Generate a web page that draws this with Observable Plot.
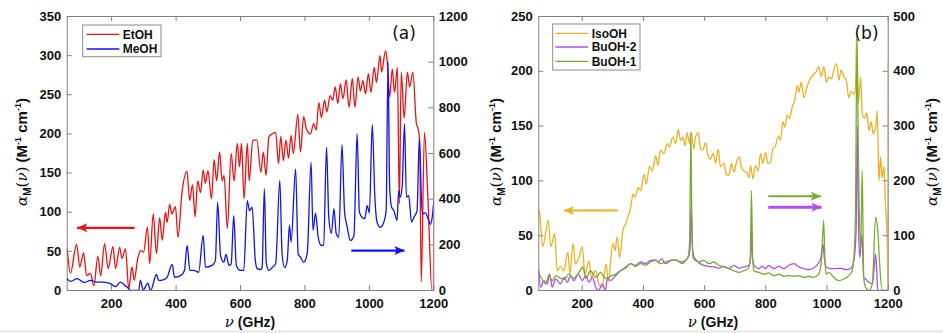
<!DOCTYPE html>
<html><head><meta charset="utf-8">
<script src="https://cdn.jsdelivr.net/npm/d3@7"></script>
<script src="https://cdn.jsdelivr.net/npm/@observablehq/plot@0.6"></script>
<style>
body{margin:0;background:#fff;}
#wrap{position:relative;width:943px;height:333px;overflow:hidden;}
#wrap svg{position:absolute;left:0;top:0;}
#strip{position:absolute;left:0;top:330px;width:943px;height:3px;background:#ececec;}
</style></head><body><div id="wrap"><div id="strip"></div></div>
<script>
// ---------- data ----------
const xTicks = [200, 400, 600, 800, 1000, 1200];
const yTicksA = [0, 50, 100, 150, 200, 250, 300, 350];
const yTicksAR = [0, 200, 400, 600, 800, 1000, 1200];
const yTicksB = [0, 50, 100, 150, 200, 250];
const yTicksBR = [0, 100, 200, 300, 400, 500];

const etohNu = [62,64,72,91,101,113,122,134,145,157,166,178,189,204,212,225,232,243,253,263,270,281,291,299,311,318,329,339,349,357,367,372,380,387,398,406,418,434,442,451,459,467,476,484,491,499,510,518,526,535,543,549,559,571,580,590,597,603,611,621,627,638,651,663,671,679,688,698,709,718,725,733,741,749,757,764,778,786,796,804,817,827,835,843,851,861,868,878,886,894,902,910,918,928,937,947,955,965,972,980,988,997,1005,1015,1022,1033,1038,1050,1055,1063,1071,1078,1087,1093,1099,1108,1118,1125,1135,1146,1151,1156,1161,1171,1182,1194,1199,1200];
const etohVal = [53,44,22,59,30,48,19,22,6,44,19,60,28,56,28,55,41,53,2,30,13,41,51,49,81,34,98,47,93,64,100,87,110,98,107,68,124,152,115,135,94,140,125,154,137,153,117,167,140,177,140,147,79,175,140,188,158,188,117,188,140,192,192,151,177,147,196,200,202,162,197,166,192,169,198,175,225,177,222,207,200,213,205,240,221,243,228,249,243,260,239,264,245,269,234,271,234,273,255,268,251,277,253,285,266,300,279,306,295,247,283,253,285,111,279,220,279,260,279,213,207,192,11,202,115,0,0,166];

const meohNu = [62,72,93,114,134,155,176,196,212,227,243,253,258,284,289,298,312,321,339,346,362,372,388,395,414,426,434,443,455,470,484,491,512,522,529,538,548,555,564,571,579,587,600,610,621,628,636,646,652,662,667,674,680,688,698,709,722,729,737,745,752,757,771,779,786,796,807,819,825,833,841,851,858,867,874,882,890,897,905,915,923,931,941,952,962,969,978,986,993,1000,1009,1017,1024,1034,1045,1052,1058,1063,1069,1076,1086,1091,1096,1102,1109,1115,1122,1131,1138,1148,1155,1164,1174,1184,1189,1195,1200];
const meohVal = [51,40,52,35,44,37,37,30,17,37,20,8,0,0,44,2,32,0,70,44,48,58,114,58,65,88,197,88,88,80,241,102,110,131,387,153,124,158,110,117,328,110,88,88,394,350,365,131,96,92,100,446,120,88,100,117,482,160,100,131,285,212,533,160,146,124,161,562,263,339,234,197,200,627,321,250,359,250,234,639,343,280,219,240,688,343,320,315,372,340,727,409,299,277,300,350,1000,450,365,350,307,438,409,460,731,409,415,299,320,350,665,336,340,307,290,320,394];

const isoNu = [58,61,71,89,97,110,118,129,140,153,160,170,178,189,200,209,222,230,244,254,265,278,285,300,307,314,322,333,342,350,358,366,372,383,391,402,409,420,429,440,447,456,467,478,485,496,505,514,521,529,536,543,551,556,565,570,579,587,594,603,611,619,628,636,644,652,663,671,679,688,696,704,714,720,728,737,745,750,758,766,775,783,790,799,807,815,823,832,841,848,856,862,870,878,886,894,903,908,916,924,933,943,952,963,973,981,990,998,1006,1015,1022,1031,1039,1046,1055,1063,1071,1079,1088,1093,1097,1102,1110,1115,1123,1130,1137,1144,1151,1159,1164,1170,1175,1180,1186,1191,1197,1199,1200];
const isoVal = [73,70,40,64,40,52,18,22,18,35,15,43,24,30,40,15,27,12,18,6,3,24,8,43,36,49,30,55,61,68,75,88,85,94,91,106,97,113,109,123,114,128,125,134,131,140,134,147,137,140,132,144,134,144,129,140,144,129,128,135,123,120,125,116,129,113,116,106,105,116,108,117,122,113,109,108,103,114,102,114,109,125,116,126,116,117,129,132,141,137,154,149,160,157,167,173,187,181,190,176,184,192,196,199,204,195,204,190,195,193,201,207,192,201,195,192,176,182,179,185,235,170,195,161,157,162,146,154,143,149,164,100,122,103,113,79,43,0,208];

const bu1Nu = [58,69,80,91,102,113,124,140,156,172,189,202,212,227,244,260,276,293,309,325,342,358,374,391,407,423,440,456,472,489,505,521,538,546,551,555,558,562,568,581,598,614,630,647,663,679,696,712,728,742,749,753,757,761,777,794,810,826,843,859,875,892,908,924,941,957,973,982,989,993,997,1006,1022,1039,1055,1071,1082,1088,1093,1098,1103,1110,1115,1120,1126,1137,1148,1159,1166,1172,1180,1200];
const bu1Val = [30,21,12,27,18,27,24,20,30,22,33,43,22,36,24,33,22,26,30,36,43,49,44,49,46,52,55,49,52,55,56,52,55,61,91,289,140,61,55,52,55,49,52,46,43,40,36,33,36,40,55,182,60,36,33,30,32,27,30,26,27,26,27,24,26,24,30,55,128,60,30,33,24,18,21,27,36,61,140,460,231,73,219,24,6,0,12,134,109,49,0,0];

const bu2Nu = [58,64,75,86,93,102,113,129,140,151,162,173,187,200,211,222,233,244,254,265,276,282,293,309,325,342,358,374,391,407,423,440,448,459,472,483,494,510,527,538,546,552,556,560,566,574,585,598,614,630,647,663,679,696,712,728,745,750,753,756,760,766,777,788,799,810,826,843,859,875,892,908,924,941,957,971,979,987,991,997,1012,1028,1044,1061,1077,1088,1095,1099,1103,1107,1114,1120,1126,1137,1148,1154,1159,1163,1166,1200];
const bu2Val = [36,6,18,12,30,6,21,12,24,15,27,18,30,18,27,15,24,6,0,12,0,24,18,27,36,41,49,46,52,49,55,56,52,58,49,52,56,55,49,55,61,73,158,80,60,55,49,46,44,43,41,44,40,46,41,43,46,61,119,60,49,43,40,44,40,46,40,44,40,46,49,43,40,38,41,49,58,85,61,43,40,40,41,38,40,55,109,300,120,60,103,24,21,15,12,40,67,30,0,0];

// arrows (data units): tail x1 -> tip x2 at level y
const arrowsA_left  = [{x1: 271, x2: 93, y: 80, color: "#ee1111", w: 2.2}];
const arrowsA_right = [{x1: 944, x2: 1109, y: 175, color: "#1111ff", w: 2.2}];
const arrowsB_left  = [{x1: 316, x2: 140, y: 73, color: "#EDB120", w: 2.2}];
const arrowsB_right = [{x1: 808, x2: 980, y: 172, color: "#77AC30", w: 1.8},
                       {x1: 808, x2: 982, y: 152, color: "#B04EF0", w: 3}];

// ---------- helpers ----------
function rows(nu, val, name) {
  if (nu.length !== val.length) throw new Error(name + " length mismatch " + nu.length + " vs " + val.length);
  return nu.map((n, i) => ({nu: n, v: val[i]}));
}
const W = 943, H = 333;
const PA = {left: 66.7, right: 433.3, top: 16, bottom: 290, xDomain: [62, 1200]};
const PB = {left: 538.3, right: 887.7, top: 16, bottom: 290, xDomain: [58, 1200]};
const AX = "#808080";
const FONT = "Liberation Sans, Arial, Helvetica, sans-serif";
const fmt = d => String(d);

function headSym(dir) {
  return {draw(ctx) {
    const L = 10, h = 4.5, s = dir; // s=-1 left pointing (tip at origin)
    ctx.moveTo(0, 0);
    ctx.lineTo(-s * L, -h);
    ctx.lineTo(-s * L * 0.78, 0);
    ctx.lineTo(-s * L, h);
    ctx.closePath();
  }};
}

function mkPlot(P, yDomain, yTicks, side, lines, arrows, base) {
  const pw = P.right - P.left, ph = P.bottom - P.top;
  const marks = [];
  if (base) {
    marks.push(Plot.axisX({ticks: xTicks, tickFormat: fmt, tickSize: 0, tickPadding: 8, label: null, fontSize: 13, fontWeight: "bold", fill: "#111"}));
    marks.push(Plot.tickX(xTicks, {x: d => d, insetTop: ph - 5, stroke: AX}));
    marks.push(Plot.tickX(xTicks, {x: d => d, insetBottom: ph - 5, stroke: AX}));
  }
  marks.push(Plot.axisY({anchor: side, ticks: yTicks, tickFormat: fmt, tickSize: 0, tickPadding: side === "left" ? 6 : 5, label: null, fontSize: 13, fontWeight: "bold", fill: "#111"}));
  marks.push(Plot.tickY(yTicks, side === "left" ? {y: d => d, insetRight: pw - 5, stroke: AX} : {y: d => d, insetLeft: pw - 5, stroke: AX}));
  for (const s of lines) {
    marks.push(Plot.line(s.data, {x: "nu", y: "v", stroke: s.color, strokeWidth: s.w || 1.3, curve: "monotone-x", clip: true}));
  }
  for (const a of arrows) {
    marks.push(Plot.link([a], {x1: "x1", x2: "x2", y1: "y", y2: "y", stroke: a.color, strokeWidth: a.w}));
    marks.push(Plot.dot([a], {x: "x2", y: "y", symbol: headSym(a.x2 < a.x1 ? -1 : 1), fill: a.color, stroke: "none", r: 3}));
  }
  if (base) marks.push(Plot.frame({stroke: AX}));
  return Plot.plot({
    width: W, height: H,
    marginLeft: P.left, marginRight: W - P.right, marginTop: P.top, marginBottom: H - P.bottom,
    x: {domain: P.xDomain, axis: null},
    y: {domain: yDomain, axis: null},
    style: {background: "none", fontFamily: FONT, fontSize: "13px", color: "#111"},
    marks
  });
}

const wrap = document.getElementById("wrap");
wrap.appendChild(mkPlot(PA, [0, 350], yTicksA, "left",
  [{data: rows(etohNu, etohVal, "etoh"), color: "#ee1111"}], arrowsA_left, true));
wrap.appendChild(mkPlot(PA, [0, 1200], yTicksAR, "right",
  [{data: rows(meohNu, meohVal, "meoh"), color: "#1111ff"}], arrowsA_right, false));
wrap.appendChild(mkPlot(PB, [0, 250], yTicksB, "left",
  [{data: rows(isoNu, isoVal, "iso"), color: "#EDB120"}], arrowsB_left, true));
wrap.appendChild(mkPlot(PB, [0, 500], yTicksBR, "right",
  [{data: rows(bu2Nu, bu2Val, "bu2"), color: "#B04EF0"},
   {data: rows(bu1Nu, bu1Val, "bu1"), color: "#77AC30"}], arrowsB_right, false));

// ---------- annotations ----------
const ann = d3.select(wrap).append("svg").attr("width", W).attr("height", H);

function ylabel(x, y) {
  const t = ann.append("text").attr("transform", `translate(${x},${y}) rotate(-90)`)
    .attr("text-anchor", "middle").attr("font-family", FONT).attr("font-size", 15)
    .attr("font-weight", "bold").attr("fill", "#111");
  t.append("tspan").attr("font-family", "DejaVu Serif").attr("font-style", "italic").attr("font-weight", "normal").text("α");
  t.append("tspan").attr("font-size", 10).attr("dy", 4).text("M");
  t.append("tspan").attr("dy", -4).attr("font-family", "DejaVu Serif").attr("font-weight", "normal").text("(");
  t.append("tspan").attr("font-family", "DejaVu Serif").attr("font-style", "italic").attr("font-weight", "normal").text("ν");
  t.append("tspan").attr("font-family", "DejaVu Serif").attr("font-weight", "normal").text(")");
  t.append("tspan").text(" (M");
  t.append("tspan").attr("font-size", 9).attr("dy", -6).text("-1");
  t.append("tspan").attr("dy", 6).text(" cm");
  t.append("tspan").attr("font-size", 9).attr("dy", -6).text("-1");
  t.append("tspan").attr("dy", 6).text(")");
}
ylabel(27, 152);
ylabel(501, 152);
ylabel(937, 152);

function xlabel(cx) {
  const t = ann.append("text").attr("x", cx).attr("y", 327).attr("text-anchor", "middle")
    .attr("font-family", FONT).attr("font-size", 14).attr("font-weight", "bold").attr("fill", "#111");
  t.append("tspan").attr("font-family", "DejaVu Serif").attr("font-style", "italic").attr("font-weight", "normal").attr("font-size", 15).text("ν");
  t.append("tspan").text(" (GHz)");
}
xlabel((PA.left + PA.right) / 2);
xlabel((PB.left + PB.right) / 2);

ann.append("text").attr("x", 404).attr("y", 39).attr("text-anchor", "middle")
  .attr("font-family", "DejaVu Sans").attr("font-size", 17).attr("fill", "#111").text("(a)");
ann.append("text").attr("x", 866.5).attr("y", 39).attr("text-anchor", "middle")
  .attr("font-family", "DejaVu Sans").attr("font-size", 17).attr("fill", "#111").text("(b)");

function legend(x, y, w, h, items, lx1, lx2, tx, ys) {
  ann.append("rect").attr("x", x).attr("y", y).attr("width", w).attr("height", h)
    .attr("fill", "#fff").attr("stroke", "#8c8c8c").attr("stroke-width", 1);
  items.forEach((it, i) => {
    ann.append("line").attr("x1", lx1).attr("x2", lx2).attr("y1", ys[i]).attr("y2", ys[i])
      .attr("stroke", it.color).attr("stroke-width", 1.3);
    ann.append("text").attr("x", tx).attr("y", ys[i] + 4.3).attr("font-family", FONT)
      .attr("font-size", 12).attr("font-weight", "bold").attr("fill", "#111").text(it.label);
  });
}
legend(82.7, 25, 78.3, 31.7, [{label: "EtOH", color: "#ee1111"}, {label: "MeOH", color: "#1111ff"}],
  86.7, 119.3, 122.7, [34.3, 49]);
legend(552.7, 24, 87.3, 46, [{label: "IsoOH", color: "#EDB120"}, {label: "BuOH-2", color: "#B04EF0"}, {label: "BuOH-1", color: "#77AC30"}],
  555.5, 588, 591.7, [33.3, 47, 61.3]);
</script>
</body></html>
